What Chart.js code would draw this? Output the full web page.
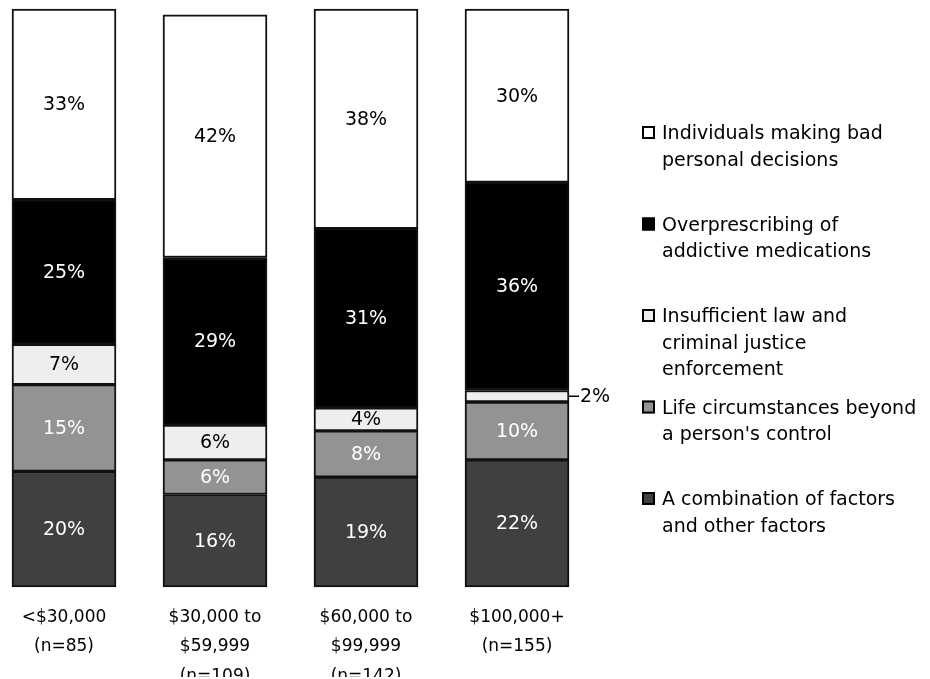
<!DOCTYPE html>
<html>
<head>
<meta charset="utf-8">
<script src="https://cdn.jsdelivr.net/npm/chart.js"></script>
<style>
  html, body { margin: 0; padding: 0; background: #fff; }
  canvas { display: block; }
</style>
</head>
<body>
<canvas id="incomeChart" width="930" height="679"></canvas>
<script>
// Income groups along the bottom (multi-line tick labels)
const incomeGroups = [
  ['<$30,000', '(n=85)'],
  ['$30,000 to', '$59,999', '(n=109)'],
  ['$60,000 to', '$99,999', '(n=142)'],
  ['$100,000+', '(n=155)']
];

// Percent of each group choosing each cause
const badDecisions      = [33, 42, 38, 30];
const overprescribing   = [25, 29, 31, 36];
const lawEnforcement    = [7, 6, 4, 2];
const lifeCircumstances = [15, 6, 8, 10];
const combination       = [20, 16, 19, 22];

// Legend text, already wrapped
const badDecisionsText      = ['Individuals making bad', 'personal decisions'];
const overprescribingText   = ['Overprescribing of', 'addictive medications'];
const lawEnforcementText    = ['Insufficient law and', 'criminal justice', 'enforcement'];
const lifeCircumstancesText = ['Life circumstances beyond', "a person's control"];
const combinationText       = ['A combination of factors', 'and other factors'];

const FONT = "'DejaVu Sans', Verdana, sans-serif";

// Percent labels in the middle of each segment; tiny ones go outside with a tick
const segmentLabels = {
  id: 'segmentLabels',
  afterDatasetsDraw(chart) {
    const ctx = chart.ctx;
    ctx.save();
    ctx.font = '19px ' + FONT;
    ctx.textBaseline = 'middle';
    chart.data.datasets.forEach((ds, di) => {
      chart.getDatasetMeta(di).data.forEach((bar, i) => {
        const v = ds.data[i];
        const text = v + '%';
        const mid = (bar.y + bar.base) / 2;
        if (v < 3) {
          const right = bar.x + bar.width / 2;
          ctx.strokeStyle = '#000';
          ctx.lineWidth = 1.5;
          ctx.beginPath();
          ctx.moveTo(right, mid);
          ctx.lineTo(right + 10, mid);
          ctx.stroke();
          ctx.fillStyle = '#000';
          ctx.textAlign = 'left';
          ctx.fillText(text, right + 11, mid + 1);
        } else {
          ctx.fillStyle = ds.labelColor;
          ctx.textAlign = 'center';
          ctx.fillText(text, bar.x, mid + 1);
        }
      });
    });
    ctx.restore();
  }
};

// Legend stacked on the right, top of stack first
const sideLegend = {
  id: 'sideLegend',
  afterDraw(chart, args, opts) {
    const ctx = chart.ctx;
    ctx.save();
    ctx.font = opts.fontSize + 'px ' + FONT;
    ctx.textBaseline = 'alphabetic';
    ctx.textAlign = 'left';
    chart.data.datasets.slice().reverse().forEach((ds, k) => {
      const base = opts.top + k * opts.step;
      const b = opts.box;
      ctx.fillStyle = ds.backgroundColor;
      ctx.fillRect(opts.x, base - b, b, b);
      ctx.strokeStyle = '#000';
      ctx.lineWidth = 2;
      ctx.strokeRect(opts.x + 1, base - b + 1, b - 2, b - 2);
      ctx.fillStyle = '#000';
      ds.legendLines.forEach((line, j) => {
        ctx.fillText(line, opts.x + b + 7, base + j * opts.lineHeight);
      });
    });
    ctx.restore();
  }
};

new Chart(document.getElementById('incomeChart'), {
  type: 'bar',
  data: {
    labels: incomeGroups,
    datasets: [
      { label: 'A combination of factors and other factors', data: combination,
        backgroundColor: '#404040', labelColor: '#fff', legendLines: combinationText },
      { label: "Life circumstances beyond a person's control", data: lifeCircumstances,
        backgroundColor: '#939393', labelColor: '#fff', legendLines: lifeCircumstancesText },
      { label: 'Insufficient law and criminal justice enforcement', data: lawEnforcement,
        backgroundColor: '#eeeeee', labelColor: '#000', legendLines: lawEnforcementText },
      { label: 'Overprescribing of addictive medications', data: overprescribing,
        backgroundColor: '#000000', labelColor: '#fff', legendLines: overprescribingText },
      { label: 'Individuals making bad personal decisions', data: badDecisions,
        backgroundColor: '#ffffff', labelColor: '#000', legendLines: badDecisionsText }
    ]
  },
  options: {
    responsive: false,
    animation: false,
    layout: { padding: { left: 64, right: 413, top: 9, bottom: 2 } },
    datasets: {
      bar: { barThickness: 104, borderWidth: 2, borderColor: '#111', borderSkipped: false, clip: false }
    },
    plugins: {
      legend: { display: false },
      tooltip: { enabled: false },
      sideLegend: { x: 642, top: 139, step: 91.5, lineHeight: 26.7, box: 13, fontSize: 19 }
    },
    scales: {
      x: {
        stacked: true,
        offset: false,
        grid: { display: false },
        border: { display: false },
        afterFit(scale) { scale.height = 90; },
        ticks: {
          color: '#000',
          font: { family: FONT, size: 17, lineHeight: 1.72 },
          padding: 8,
          maxRotation: 0,
          autoSkip: false
        }
      },
      y: { stacked: true, display: false, min: 0, max: 100 }
    }
  },
  plugins: [segmentLabels, sideLegend]
});
</script>
</body>
</html>
